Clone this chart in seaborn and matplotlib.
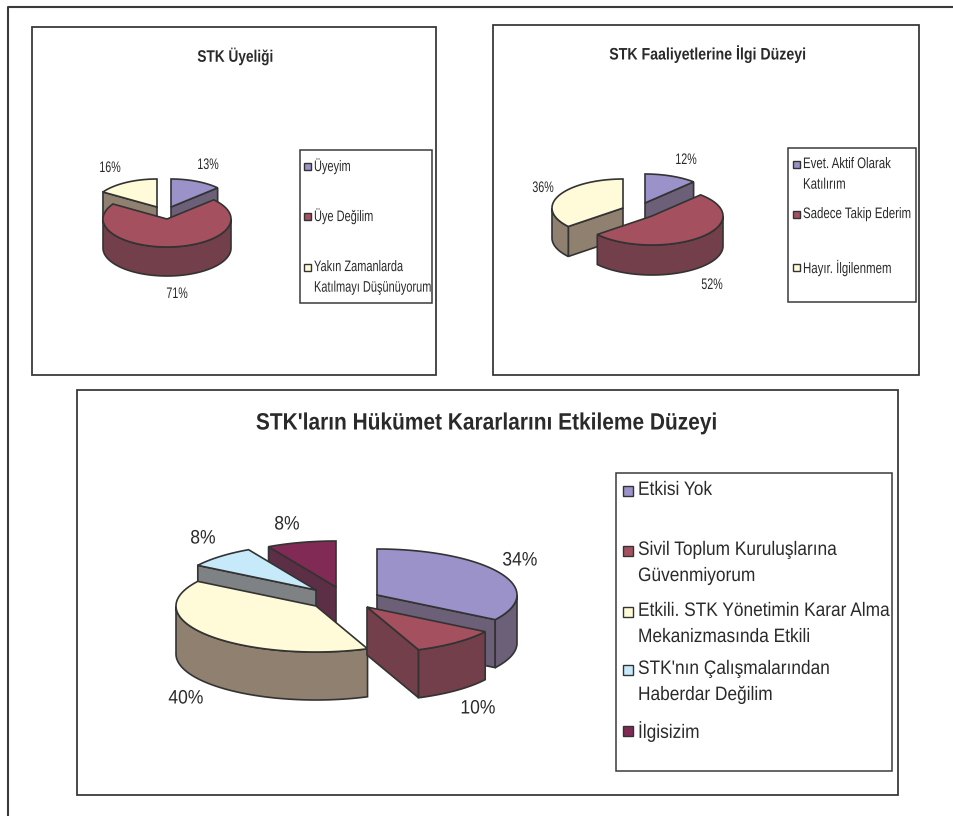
import numpy as np
import seaborn as sns
import matplotlib.pyplot as plt
from matplotlib.patches import Polygon, Rectangle
from matplotlib.patheffects import AbstractPathEffect
from matplotlib.transforms import Affine2D

sns.set_theme(style="white")
plt.rcParams['font.family'] = ['Liberation Sans', 'DejaVu Sans']

titles = ["STK Üyeliği", "STK Faaliyetlerine İlgi Düzeyi", "STK'ların Hükümet Kararlarını Etkileme Düzeyi"]

uyelik_labels = ["Üyeyim", "Üye Değilim", "Yakın Zamanlarda\nKatılmayı Düşünüyorum"]
uyelik_values = [13, 71, 16]

ilgi_labels = ["Evet. Aktif Olarak\nKatılırım", "Sadece Takip Ederim", "Hayır. İlgilenmem"]
ilgi_values = [12, 52, 36]

etki_labels = ["Etkisi Yok", "Sivil Toplum Kuruluşlarına\nGüvenmiyorum",
               "Etkili. STK Yönetimin Karar Alma\nMekanizmasında Etkili",
               "STK'nın Çalışmalarından\nHaberdar Değilim", "İlgisizim"]
etki_values = [34, 10, 40, 8, 8]

top_colors = sns.color_palette(["#9a92c8", "#a5505f", "#fffad8", "#c6eafa", "#812a55"])
side_colors = sns.color_palette(["#6b6078", "#723f4a", "#8f8070", "#7f8284", "#5c2f47"])
EDGE = "#333333"
INK = "#2a2a2a"

fig = plt.figure(figsize=(9.54, 8.16), dpi=100)
ax = fig.add_axes([0, 0, 1, 1])
ax.set_xlim(0, 954)
ax.set_ylim(816, 0)
ax.axis("off")


class Squeeze(AbstractPathEffect):
    # the original font is a narrow one, none is installed
    def __init__(self, x0, sx):
        super().__init__()
        self.x0 = x0
        self.sx = sx

    def draw_path(self, renderer, gc, tpath, affine, rgbFace=None):
        t = affine + Affine2D().translate(-self.x0, 0).scale(self.sx, 1).translate(self.x0, 0)
        renderer.draw_path(gc, tpath, t, rgbFace)


def narrow_text(x, y, s, sx, **kw):
    txt = ax.text(x, y, s, color=INK, zorder=10, **kw)
    txt.set_path_effects([Squeeze(x, sx)])
    return txt


def box(x0, y0, x1, y1, lw=1.3, ec="#3a3a3a"):
    ax.add_patch(Rectangle((x0, y0), x1 - x0, y1 - y0, fc="none", ec=ec, lw=lw))


def arc(cx, cy, rx, ry, a0, a1):
    t = np.radians(np.linspace(a0, a1, max(int(abs(a1 - a0)), 2) + 1))
    return np.column_stack([cx + rx * np.sin(t), cy - ry * np.cos(t)])


def slice3d(cx, cy, rx, ry, depth, a0, a1, top, side, z):
    # only the radial face turned to the viewer, then front wall, then the top
    for a, visible in ((a0, 180 < a0 < 360), (a1, 0 < a1 < 180)):
        if visible:
            p = arc(cx, cy, rx, ry, a, a)[0]
            pts = [(cx, cy), p, p + (0, depth), (cx, cy + depth)]
            ax.add_patch(Polygon(pts, fc=side, ec=EDGE, lw=1.2, zorder=z))
    f0, f1 = max(a0, 90), min(a1, 270)
    if f1 > f0:
        up = arc(cx, cy, rx, ry, f0, f1)
        pts = np.vstack([up, (up + (0, depth))[::-1]])
        ax.add_patch(Polygon(pts, fc=side, ec=EDGE, lw=1.2, zorder=z))
    pts = np.vstack([[(cx, cy)], arc(cx, cy, rx, ry, a0, a1)])
    ax.add_patch(Polygon(pts, fc=top, ec=EDGE, lw=1.2, zorder=z))


def pie3d(values, centers, rx, ry, depth, order):
    stops = np.concatenate([[0], np.cumsum(values)]) * 3.6
    for z, i in enumerate(order):
        cx, cy = centers[i]
        slice3d(cx, cy, rx, ry, depth, stops[i], stops[i + 1], top_colors[i], side_colors[i], z + 2)


def pct_labels(values, spots, size, sx):
    for v, (x, y) in zip(values, spots):
        narrow_text(x, y, f"{v}%", sx, ha="center", va="center", fontsize=size)


def legend(labels, rows, sw_x, txt_x, sw, size, sx, gap):
    for i, (lab, y) in enumerate(zip(labels, rows)):
        ax.add_patch(Rectangle((sw_x, y - sw / 2), sw, sw, fc=top_colors[i], ec="#333333", lw=1.0))
        narrow_text(txt_x, y - size * 0.72 + 1, lab, sx, ha="left", va="top", fontsize=size, linespacing=gap)


# page frame, open on the right and at the bottom
ax.plot([954, 8, 8], [7, 7, 816], color="#3a3a3a", lw=1.5)

# first pie
box(32, 27, 436, 375)
narrow_text(235, 56, titles[0], 0.82, ha="center", va="center", fontsize=12, fontweight="bold")
pie3d(uyelik_values, [(171, 207), (167, 219), (157, 207)], 64, 28, 29, [0, 2, 1])
pct_labels(uyelik_values, [(208, 165), (177, 294), (110, 168)], 11, 0.7)
box(300, 150, 432, 303, lw=1.1)
legend(uyelik_labels, [166, 216, 267], 304, 314, 7, 11, 0.72, 1.6)

# second pie
box(493, 25, 919, 375)
narrow_text(707, 54, titles[1], 0.85, ha="center", va="center", fontsize=12, fontweight="bold")
pie3d(ilgi_values, [(645, 203), (652, 216), (623, 208)], 71, 29, 30, [0, 2, 1])
pct_labels(ilgi_values, [(686, 160), (712, 285), (543, 188)], 11, 0.7)
box(788, 148, 916, 302, lw=1.1)
legend(ilgi_labels, [164, 214, 267], 793, 803, 7, 11, 0.75, 1.6)

# third pie
box(77, 390, 898, 795)
narrow_text(487, 423, titles[2], 0.885, ha="center", va="center", fontsize=17, fontweight="bold")
pie3d(etki_values, [(377, 595), (367, 607), (316, 606), (316, 590), (336, 587)], 140, 46, 48, [4, 3, 2, 0, 1])
pct_labels(etki_values, [(520, 561), (478, 709), (186, 699), (203, 539), (287, 525)], 14, 0.9)
box(616, 473, 892, 771, lw=1.1)
legend(etki_labels, [491, 551, 612, 670, 731], 623, 638, 10, 14, 0.89, 1.7)

fig.savefig("out.png", dpi=100)
